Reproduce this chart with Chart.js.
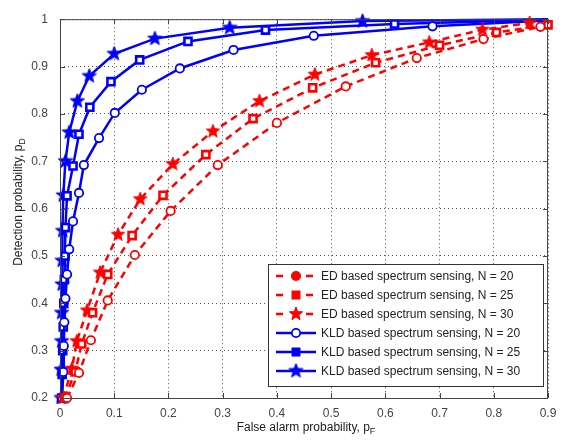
<!DOCTYPE html>
<html>
<head>
<meta charset="utf-8">
<script src="https://cdn.jsdelivr.net/npm/chart.js@4.4.0/dist/chart.umd.min.js"></script>
<style>
  html, body { margin: 0; padding: 0; background: #fff; }
</style>
</head>
<body>
<canvas id="roc" width="574" height="444"></canvas>
<script>
// values (false alarm p_F, detection p_D)
var edX20 = [0.013, 0.035, 0.057, 0.088, 0.138, 0.204, 0.291, 0.400, 0.527, 0.658, 0.781, 0.886];
var edY20 = [0.200, 0.253, 0.322, 0.406, 0.502, 0.595, 0.692, 0.781, 0.858, 0.918, 0.958, 0.984];

var edX25 = [0.009, 0.028, 0.040, 0.060, 0.088, 0.133, 0.190, 0.269, 0.356, 0.466, 0.582, 0.700, 0.805, 0.900];
var edY25 = [0.200, 0.255, 0.314, 0.380, 0.461, 0.543, 0.628, 0.714, 0.790, 0.855, 0.908, 0.945, 0.972, 0.988];

var edX30 = [0.006, 0.022, 0.031, 0.050, 0.074, 0.107, 0.148, 0.208, 0.282, 0.368, 0.470, 0.575, 0.681, 0.779, 0.866];
var edY30 = [0.200, 0.262, 0.320, 0.385, 0.465, 0.545, 0.620, 0.694, 0.763, 0.827, 0.883, 0.924, 0.951, 0.978, 0.992];

var kldX20 = [0.004, 0.006, 0.007, 0.008, 0.010, 0.013, 0.017, 0.024, 0.035, 0.044, 0.072, 0.101, 0.151, 0.221, 0.320, 0.468, 0.687, 0.900];
var kldY20 = [0.200, 0.255, 0.310, 0.360, 0.410, 0.461, 0.514, 0.573, 0.633, 0.692, 0.749, 0.802, 0.851, 0.896, 0.935, 0.965, 0.985, 0.997];

var kldX25 = [0.003, 0.004, 0.005, 0.006, 0.007, 0.008, 0.009, 0.010, 0.013, 0.024, 0.035, 0.055, 0.094, 0.147, 0.236, 0.379, 0.617, 0.900];
var kldY25 = [0.200, 0.250, 0.300, 0.350, 0.400, 0.450, 0.500, 0.560, 0.627, 0.690, 0.757, 0.814, 0.868, 0.914, 0.953, 0.977, 0.990, 0.999];

var kldX30 = [0.002, 0.002, 0.003, 0.003, 0.004, 0.004, 0.005, 0.006, 0.010, 0.017, 0.032, 0.054, 0.100, 0.175, 0.313, 0.558, 0.900];
var kldY30 = [0.200, 0.260, 0.320, 0.380, 0.440, 0.490, 0.553, 0.628, 0.700, 0.761, 0.827, 0.880, 0.927, 0.959, 0.982, 0.996, 1.000];

var xTickValues = [0, 0.1, 0.2, 0.3, 0.4, 0.5, 0.6, 0.7, 0.8, 0.9];
var yTickValues = [0.2, 0.3, 0.4, 0.5, 0.6, 0.7, 0.8, 0.9, 1];

var seriesLabels = [
  'ED based spectrum sensing, N = 20',
  'ED based spectrum sensing, N = 25',
  'ED based spectrum sensing, N = 30',
  'KLD based spectrum sensing, N = 20',
  'KLD based spectrum sensing, N = 25',
  'KLD based spectrum sensing, N = 30'
];

var RED = '#ff0000', BLUE = '#0000ff';
var FONT = '"Liberation Sans", Arial, sans-serif';

function makeStar(color, r) {
  var c = document.createElement('canvas');
  var s = Math.ceil(2 * r + 4);
  c.width = s; c.height = s;
  var g = c.getContext('2d');
  g.beginPath();
  for (var i = 0; i < 10; i++) {
    var rr = (i % 2 == 0) ? r : r * 0.42;
    var a = -Math.PI / 2 + i * Math.PI / 5;
    var px = s / 2 + rr * Math.cos(a), py = s / 2 + rr * Math.sin(a);
    if (i == 0) g.moveTo(px, py); else g.lineTo(px, py);
  }
  g.closePath();
  g.fillStyle = color;
  g.fill();
  g.lineWidth = 1;
  g.strokeStyle = color;
  g.stroke();
  return c;
}

var redStar = makeStar(RED, 7);
var blueStar = makeStar(BLUE, 7.5);

function toPoints(xs, ys) {
  var pts = [];
  for (var i = 0; i < xs.length; i++) pts.push({ x: xs[i], y: ys[i] });
  return pts;
}

var markerKinds = ['circle', 'rect', 'star', 'circle', 'rect', 'star'];

function makeSet(k, xs, ys, color, dashed, hideLast) {
  var kind = markerKinds[k];
  var star = color == RED ? redStar : blueStar;
  var radius = kind == 'circle' ? 4.2 : (kind == 'rect' ? 5 : 8);
  return {
    label: seriesLabels[k],
    data: toPoints(xs, ys),
    showLine: true,
    borderColor: color,
    borderWidth: 2.5,
    borderDash: dashed ? [7, 5] : [],
    pointStyle: kind == 'star' ? star : kind,
    pointRadius: function(ctx) {
      return (hideLast && ctx.dataIndex == xs.length - 1) ? 0 : radius;
    },
    pointBorderWidth: kind == 'rect' ? 2.6 : 1.8,
    pointBorderColor: color,
    pointBackgroundColor: '#fff',
    tension: 0,
    clip: 6
  };
}

var datasets = [
  makeSet(0, edX20, edY20, RED, true, false),
  makeSet(1, edX25, edY25, RED, true, false),
  makeSet(2, edX30, edY30, RED, true, false),
  makeSet(3, kldX20, kldY20, BLUE, false, true),
  makeSet(4, kldX25, kldY25, BLUE, false, true),
  makeSet(5, kldX30, kldY30, BLUE, false, true)
];

function fmt(v) { return String(Number(v.toFixed(1))); }

var framePlugin = {
  id: 'frame',
  afterDraw: function(chart) {
    var ctx = chart.ctx, a = chart.chartArea;
    var xs = chart.scales.x, ys = chart.scales.y;
    ctx.save();
    // axes box
    ctx.strokeStyle = '#444';
    ctx.lineWidth = 1;
    ctx.strokeRect(a.left + 0.5, a.top + 0.5, a.right - a.left - 1, a.bottom - a.top);
    // inner ticks on all sides
    ctx.beginPath();
    xTickValues.forEach(function(v) {
      var px = Math.round(xs.getPixelForValue(v)) + 0.5;
      ctx.moveTo(px, a.bottom); ctx.lineTo(px, a.bottom - 5);
      ctx.moveTo(px, a.top); ctx.lineTo(px, a.top + 5);
    });
    yTickValues.forEach(function(v) {
      var py = Math.round(ys.getPixelForValue(v)) + 0.5;
      ctx.moveTo(a.left, py); ctx.lineTo(a.left + 5, py);
      ctx.moveTo(a.right, py); ctx.lineTo(a.right - 5, py);
    });
    ctx.stroke();

    // axis titles with subscripts
    ctx.fillStyle = '#222';
    ctx.textBaseline = 'middle';
    var main = 'False alarm probability, p', sub = 'F';
    ctx.font = '12px ' + FONT;
    var w1 = ctx.measureText(main).width;
    ctx.font = '9px ' + FONT;
    var w2 = ctx.measureText(sub).width;
    var sx = 306 - (w1 + w2) / 2, sy = 428;
    ctx.font = '12px ' + FONT;
    ctx.textAlign = 'left';
    ctx.fillText(main, sx, sy);
    ctx.font = '9px ' + FONT;
    ctx.fillText(sub, sx + w1, sy + 4);

    main = 'Detection probability, p'; sub = 'D';
    ctx.font = '12px ' + FONT;
    w1 = ctx.measureText(main).width;
    ctx.font = '9px ' + FONT;
    w2 = ctx.measureText(sub).width;
    ctx.translate(19, 202);
    ctx.rotate(-Math.PI / 2);
    ctx.font = '12px ' + FONT;
    ctx.fillText(main, -(w1 + w2) / 2, 0);
    ctx.font = '9px ' + FONT;
    ctx.fillText(sub, -(w1 + w2) / 2 + w1, 4);
    ctx.restore();

    // legend box
    ctx.save();
    var lx = 268, ly = 264, lw = 275, lh = 122;
    ctx.fillStyle = '#fff';
    ctx.fillRect(lx, ly, lw, lh);
    ctx.strokeStyle = '#333';
    ctx.lineWidth = 1;
    ctx.strokeRect(lx + 0.5, ly + 0.5, lw, lh);
    chart.data.datasets.forEach(function(ds, i) {
      var y = 276 + i * 19;
      ctx.strokeStyle = ds.borderColor;
      ctx.lineWidth = 2.5;
      ctx.setLineDash(ds.borderDash);
      ctx.beginPath();
      if (ds.borderDash.length) {
        ctx.moveTo(276, y); ctx.lineTo(284, y);
        ctx.moveTo(306, y); ctx.lineTo(315, y);
      } else {
        ctx.moveTo(276, y); ctx.lineTo(316, y);
      }
      ctx.stroke();
      ctx.setLineDash([]);
      var kind = markerKinds[i];
      ctx.lineWidth = 1.8;
      if (kind == 'circle') {
        ctx.beginPath();
        ctx.arc(296, y, 4.2, 0, Math.PI * 2);
        ctx.fillStyle = ds.borderColor == RED ? RED : '#fff';
        ctx.fill();
        ctx.stroke();
      } else if (kind == 'rect') {
        ctx.fillStyle = ds.borderColor;
        ctx.fillRect(291.5, y - 4.5, 9, 9);
      } else {
        var st = ds.pointStyle;
        ctx.drawImage(st, 296 - st.width / 2, y - st.height / 2);
      }
      ctx.fillStyle = '#222';
      ctx.font = '12px ' + FONT;
      ctx.textAlign = 'left';
      ctx.textBaseline = 'middle';
      ctx.fillText(ds.label, 321, y + 1);
    });
    ctx.restore();
  }
};

new Chart(document.getElementById('roc').getContext('2d'), {
  type: 'scatter',
  data: { datasets: datasets },
  options: {
    responsive: false,
    animation: false,
    layout: { padding: { left: 0, top: 6, right: 26, bottom: 0 } },
    plugins: {
      legend: { display: false },
      tooltip: { enabled: false }
    },
    scales: {
      x: {
        type: 'linear',
        min: 0,
        max: 0.9,
        afterFit: function(scale) { scale.height = 46; },
        afterBuildTicks: function(scale) {
          scale.ticks = xTickValues.map(function(v) { return { value: v }; });
        },
        ticks: {
          padding: 8,
          color: '#444',
          font: { family: FONT, size: 12 },
          callback: function(v) { return fmt(v); }
        },
        grid: { color: '#555', lineWidth: 1, drawTicks: false },
        border: { display: false, dash: [1, 3] }
      },
      y: {
        type: 'linear',
        min: 0.2,
        max: 1,
        afterFit: function(scale) { scale.width = 60; },
        afterBuildTicks: function(scale) {
          scale.ticks = yTickValues.map(function(v) { return { value: v }; });
        },
        ticks: {
          padding: 12,
          color: '#444',
          font: { family: FONT, size: 12 },
          callback: function(v) { return fmt(v); }
        },
        grid: { color: '#555', lineWidth: 1, drawTicks: false },
        border: { display: false, dash: [1, 3] }
      }
    }
  },
  plugins: [framePlugin]
});
</script>
</body>
</html>
